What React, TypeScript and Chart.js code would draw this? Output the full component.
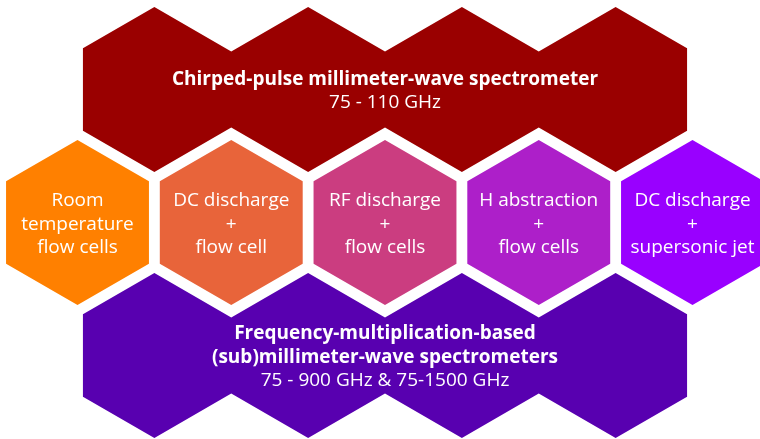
import React, { useEffect, useRef } from "react";
import { Chart, registerables } from "chart.js";

Chart.register(...registerables);

// ---- Content data ----
const topBandLines = ["Chirped-pulse millimeter-wave spectrometer", "75 - 110 GHz"];
const topBandBold = [true, false];
const bottomBandLines = [
  "Frequency-multiplication-based",
  "(sub)millimeter-wave spectrometers",
  "75 - 900 GHz & 75-1500 GHz",
];
const bottomBandBold = [true, true, false];
const cellLabels = [
  ["Room", "temperature", "flow cells"],
  ["DC discharge", "+", "flow cell"],
  ["RF discharge", "+", "flow cells"],
  ["H abstraction", "+", "flow cells"],
  ["DC discharge", "+", "supersonic jet"],
];
const cellColors = ["#ff8000", "#e8643a", "#cb3d80", "#ad1fc9", "#9900ff"];
const cellColumns = [0, 1, 2, 3, 4];
const bandColumns = [0.5, 1.5, 2.5, 3.5];
const topBandColor = "#9a0000";
const bottomBandColor = "#5800b0";

// ---- Honeycomb layout constants ----
const X0 = 77.5;
const COL = 153.75;
const Y0 = 89.5;
const ROW = 133;
const R = 82.5;
const W = R * Math.cos(Math.PI / 6);
const NOTCH = (COL / 2) * Math.tan(Math.PI / 6);
const FONT_SIZE = 19;
const LINE_H = 23.4;

const colX = (c: number) => X0 + c * COL;
const rowY = (r: number) => Y0 + r * ROW;

function hexPoints(c: number, r: number) {
  const cx = colX(c);
  const cy = rowY(r);
  return [
    { x: cx, y: cy - R },
    { x: cx + W, y: cy - R / 2 },
    { x: cx + W, y: cy + R / 2 },
    { x: cx, y: cy + R },
    { x: cx - W, y: cy + R / 2 },
    { x: cx - W, y: cy - R / 2 },
    { x: cx, y: cy - R },
  ];
}

function bandPoints(cols: number[], r: number) {
  const cy = rowY(r);
  const pts: { x: number; y: number }[] = [];
  const first = colX(cols[0]);
  const last = colX(cols[cols.length - 1]);
  pts.push({ x: first - W, y: cy - R / 2 });
  cols.forEach((c, i) => {
    pts.push({ x: colX(c), y: cy - R });
    if (i < cols.length - 1) pts.push({ x: colX(c) + COL / 2, y: cy - R + NOTCH });
  });
  pts.push({ x: last + W, y: cy - R / 2 });
  pts.push({ x: last + W, y: cy + R / 2 });
  for (let i = cols.length - 1; i >= 0; i--) {
    const c = cols[i];
    pts.push({ x: colX(c), y: cy + R });
    if (i > 0) pts.push({ x: colX(c) - COL / 2, y: cy + R - NOTCH });
  }
  pts.push({ x: first - W, y: cy + R / 2 });
  pts.push({ x: first - W, y: cy - R / 2 });
  return pts;
}

type TextBlock = { cx: number; cy: number; lines: string[]; bold: boolean[] };

const textBlocks: TextBlock[] = [
  { cx: 2, cy: 0, lines: topBandLines, bold: topBandBold },
  { cx: 2, cy: 2, lines: bottomBandLines, bold: bottomBandBold },
  ...cellLabels.map((lines, i) => ({
    cx: cellColumns[i],
    cy: 1,
    lines,
    bold: lines.map(() => false),
  })),
];

const textPlugin = {
  id: "hexText",
  afterDatasetsDraw(chart: any) {
    const { ctx, scales } = chart;
    ctx.save();
    ctx.fillStyle = "#ffffff";
    ctx.textAlign = "center";
    ctx.textBaseline = "alphabetic";
    textBlocks.forEach((b) => {
      const px = scales.x.getPixelForValue(colX(b.cx));
      const py = scales.y.getPixelForValue(rowY(b.cy));
      const n = b.lines.length;
      b.lines.forEach((line, i) => {
        ctx.font = `${b.bold[i] ? "bold " : ""}${FONT_SIZE}px "Open Sans", "Noto Sans", sans-serif`;
        const y = py + (i - (n - 1) / 2) * LINE_H + 7;
        ctx.fillText(line, px, y);
      });
    });
    ctx.restore();
  },
};

export default function App() {
  const ref = useRef<HTMLCanvasElement | null>(null);
  useEffect(() => {
    document.body.style.margin = "0";
    if (!ref.current) return;
    const mk = (data: { x: number; y: number }[], color: string) => ({
      type: "scatter" as const,
      data,
      showLine: true,
      fill: "shape",
      backgroundColor: color,
      borderColor: color,
      borderWidth: 0,
      pointRadius: 0,
      tension: 0,
      clip: false,
    });
    const datasets: any[] = [
      mk(bandPoints(bandColumns, 0), topBandColor),
      mk(bandPoints(bandColumns, 2), bottomBandColor),
      ...cellColumns.map((c, i) => mk(hexPoints(c, 1), cellColors[i])),
    ];
    const chart = new Chart(ref.current, {
      type: "scatter",
      data: { datasets },
      options: {
        responsive: false,
        animation: false,
        events: [],
        layout: { padding: 0 },
        plugins: { legend: { display: false }, tooltip: { enabled: false } },
        scales: {
          x: { type: "linear", min: 0, max: 760, display: false },
          y: { type: "linear", min: 0, max: 439, reverse: true, display: false },
        },
      },
      plugins: [textPlugin],
    } as any);
    return () => chart.destroy();
  }, []);
  return (
    <div style={{ width: 760, height: 439, background: "#ffffff" }}>
      <canvas ref={ref} width={760} height={439} style={{ display: "block" }} />
    </div>
  );
}
